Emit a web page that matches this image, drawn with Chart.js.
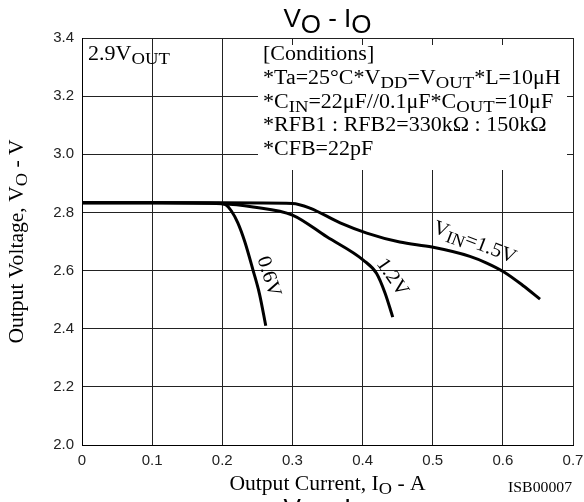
<!DOCTYPE html>
<html>
<head>
<meta charset="utf-8">
<script src="https://cdn.jsdelivr.net/npm/chart.js@4.4.0/dist/chart.umd.min.js"></script>
<style>
  html, body { margin: 0; padding: 0; background: #fff; }
  canvas { display: block; }
</style>
</head>
<body>
<canvas id="myChart" width="584" height="502"></canvas>
<script>
// values: output current (A) vs output voltage (V)
var current06 = [0, 0.1, 0.195, 0.205, 0.213, 0.222, 0.232, 0.244, 0.253, 0.262];
var voltage06 = [2.833, 2.833, 2.832, 2.826, 2.805, 2.765, 2.70, 2.60, 2.52, 2.41];

var current12 = [0, 0.1, 0.2, 0.244, 0.30, 0.349, 0.401, 0.420, 0.432, 0.443];
var voltage12 = [2.833, 2.833, 2.830, 2.819, 2.791, 2.716, 2.636, 2.59, 2.523, 2.44];

var current15 = [0, 0.1, 0.2, 0.3, 0.325, 0.368, 0.406, 0.453, 0.499, 0.553, 0.577, 0.601, 0.629, 0.653];
var voltage15 = [2.833, 2.833, 2.833, 2.831, 2.815, 2.764, 2.729, 2.698, 2.681, 2.649, 2.626, 2.596, 2.548, 2.502];

var xTickLabels = ['0', '0.1', '0.2', '0.3', '0.4', '0.5', '0.6', '0.7'];
var yTickLabels = ['2.0', '2.2', '2.4', '2.6', '2.8', '3.0', '3.2', '3.4'];

var SERIF = '"Liberation Serif", "Times New Roman", serif';
var SANS = '"Liberation Sans", Arial, sans-serif';

function toPoints(xs, ys) {
    return xs.map(function (x, i) { return { x: x, y: ys[i] }; });
}

// draws text with subscript parts: parts = [[text, isSub], ...]
function drawRich(ctx, parts, x, y, o) {
    o = o || {};
    var size = o.size || 20, sub = o.sub || 17, shift = o.shift || 4;
    var fam = o.family || SERIF;
    ctx.save();
    ctx.translate(x, y);
    if (o.rotate) ctx.rotate(o.rotate);
    ctx.scale(o.sx || 1, 1);
    ctx.fillStyle = '#000';
    ctx.textBaseline = 'alphabetic';
    ctx.textAlign = 'left';
    var w = 0;
    parts.forEach(function (p) {
        ctx.font = (p[1] ? sub : size) + 'px ' + fam;
        w += ctx.measureText(p[0]).width;
    });
    var cx = o.align === 'center' ? -w / 2 : (o.align === 'right' ? -w : 0);
    parts.forEach(function (p) {
        ctx.font = (p[1] ? sub : size) + 'px ' + fam;
        ctx.fillText(p[0], cx, (p[1] ? shift : 0) + (o.dy || 0));
        cx += ctx.measureText(p[0]).width;
    });
    ctx.restore();
}

var deg = Math.PI / 180;

var textPlugin = {
    id: 'texts',
    beforeDatasetsDraw: function (chart) {
        var ctx = chart.ctx, a = chart.chartArea;
        // white panel behind the conditions
        ctx.save();
        ctx.fillStyle = '#fff';
        ctx.fillRect(a.left + 176, a.top + 7, 309, 125);
        ctx.restore();
    },
    afterDraw: function (chart) {
        var ctx = chart.ctx, a = chart.chartArea;
        var xs = chart.scales.x, ys = chart.scales.y;
        var midX = (a.left + a.right) / 2, midY = (a.top + a.bottom) / 2;

        // title
        drawRich(ctx, [['V', 0], ['O', 1], [' - I', 0], ['O', 1]], midX, 27,
            { family: SANS, size: 26, sub: 26, shift: 6, align: 'center' });
        // next page's title, cut off at the bottom
        drawRich(ctx, [['V', 0], ['O', 1], [' - I', 0], ['O', 1]], midX, 517,
            { family: SANS, size: 26, sub: 26, shift: 6, align: 'center' });

        // axis titles
        drawRich(ctx, [['Output Voltage, V', 0], ['O', 1], [' - V', 0]], 23, midY,
            { rotate: -90 * deg, align: 'center', sx: 1.08 });
        drawRich(ctx, [['Output Current, I', 0], ['O', 1], [' - A', 0]], midX, 490,
            { align: 'center', sx: 1.08 });
        drawRich(ctx, [['ISB00007', 0]], 572, 492, { size: 15, align: 'right', sx: 1.05 });

        // output setting
        drawRich(ctx, [['2.9V', 0], ['OUT', 1]], a.left + 6, a.top + 22, { sx: 1.1 });

        // conditions
        var lines = [
            [['[Conditions]', 0]],
            [['*Ta=25°C*V', 0], ['DD', 1], ['=V', 0], ['OUT', 1], ['*L=10μH', 0]],
            [['*C', 0], ['IN', 1], ['=22μF//0.1μF*C', 0], ['OUT', 1], ['=10μF', 0]],
            [['*RFB1 : RFB2=330kΩ : 150kΩ', 0]],
            [['*CFB=22pF', 0]]
        ];
        lines.forEach(function (l, i) {
            drawRich(ctx, l, a.left + 181, a.top + 22 + i * 23.75, { sx: 1.1 });
        });

        // curve labels
        drawRich(ctx, [['0.6V', 0]], xs.getPixelForValue(0.267), ys.getPixelForValue(2.58),
            { rotate: 72 * deg, align: 'center', dy: 6, sx: 1.05 });
        drawRich(ctx, [['1.2V', 0]], xs.getPixelForValue(0.443), ys.getPixelForValue(2.578),
            { rotate: 55 * deg, align: 'center', dy: 6, sx: 1.05 });
        drawRich(ctx, [['V', 0], ['IN', 1], ['=1.5V', 0]], xs.getPixelForValue(0.560), ys.getPixelForValue(2.698),
            { rotate: 21 * deg, align: 'center', dy: 6, sx: 1.05 });
    }
};

var lineStyle = {
    showLine: true,
    borderColor: '#000',
    backgroundColor: '#000',
    borderWidth: 3,
    pointRadius: 0,
    cubicInterpolationMode: 'monotone'
};

var ctx = document.getElementById('myChart').getContext('2d');
var myChart = new Chart(ctx, {
    type: 'scatter',
    data: {
        datasets: [
            Object.assign({ label: '0.6V', data: toPoints(current06, voltage06) }, lineStyle),
            Object.assign({ label: '1.2V', data: toPoints(current12, voltage12) }, lineStyle),
            Object.assign({ label: 'VIN=1.5V', data: toPoints(current15, voltage15) }, lineStyle)
        ]
    },
    options: {
        responsive: false,
        animation: false,
        devicePixelRatio: 1,
        layout: { padding: { top: 38, right: 11, left: 0, bottom: 0 } },
        plugins: {
            legend: { display: false },
            tooltip: { enabled: false }
        },
        scales: {
            x: {
                type: 'linear',
                min: 0,
                max: 0.7,
                afterFit: function (s) {
                    s.height = 57;
                    s.paddingLeft = 0;
                    s.paddingRight = 0;
                },
                ticks: {
                    stepSize: 0.1,
                    padding: 7,
                    color: '#222',
                    font: { family: SANS, size: 15 },
                    maxRotation: 0,
                    callback: function (v, i) { return xTickLabels[i]; }
                },
                grid: { color: '#222', drawTicks: false },
                border: { color: '#000' }
            },
            y: {
                type: 'linear',
                min: 2.0,
                max: 3.4,
                afterFit: function (s) {
                    s.width = 82;
                    s.paddingTop = 0;
                    s.paddingBottom = 0;
                },
                ticks: {
                    stepSize: 0.2,
                    padding: 8,
                    color: '#222',
                    font: { family: SANS, size: 15 },
                    callback: function (v, i) { return yTickLabels[i]; }
                },
                grid: { color: '#222', drawTicks: false },
                border: { color: '#000' }
            }
        }
    },
    plugins: [textPlugin]
});
</script>
</body>
</html>
